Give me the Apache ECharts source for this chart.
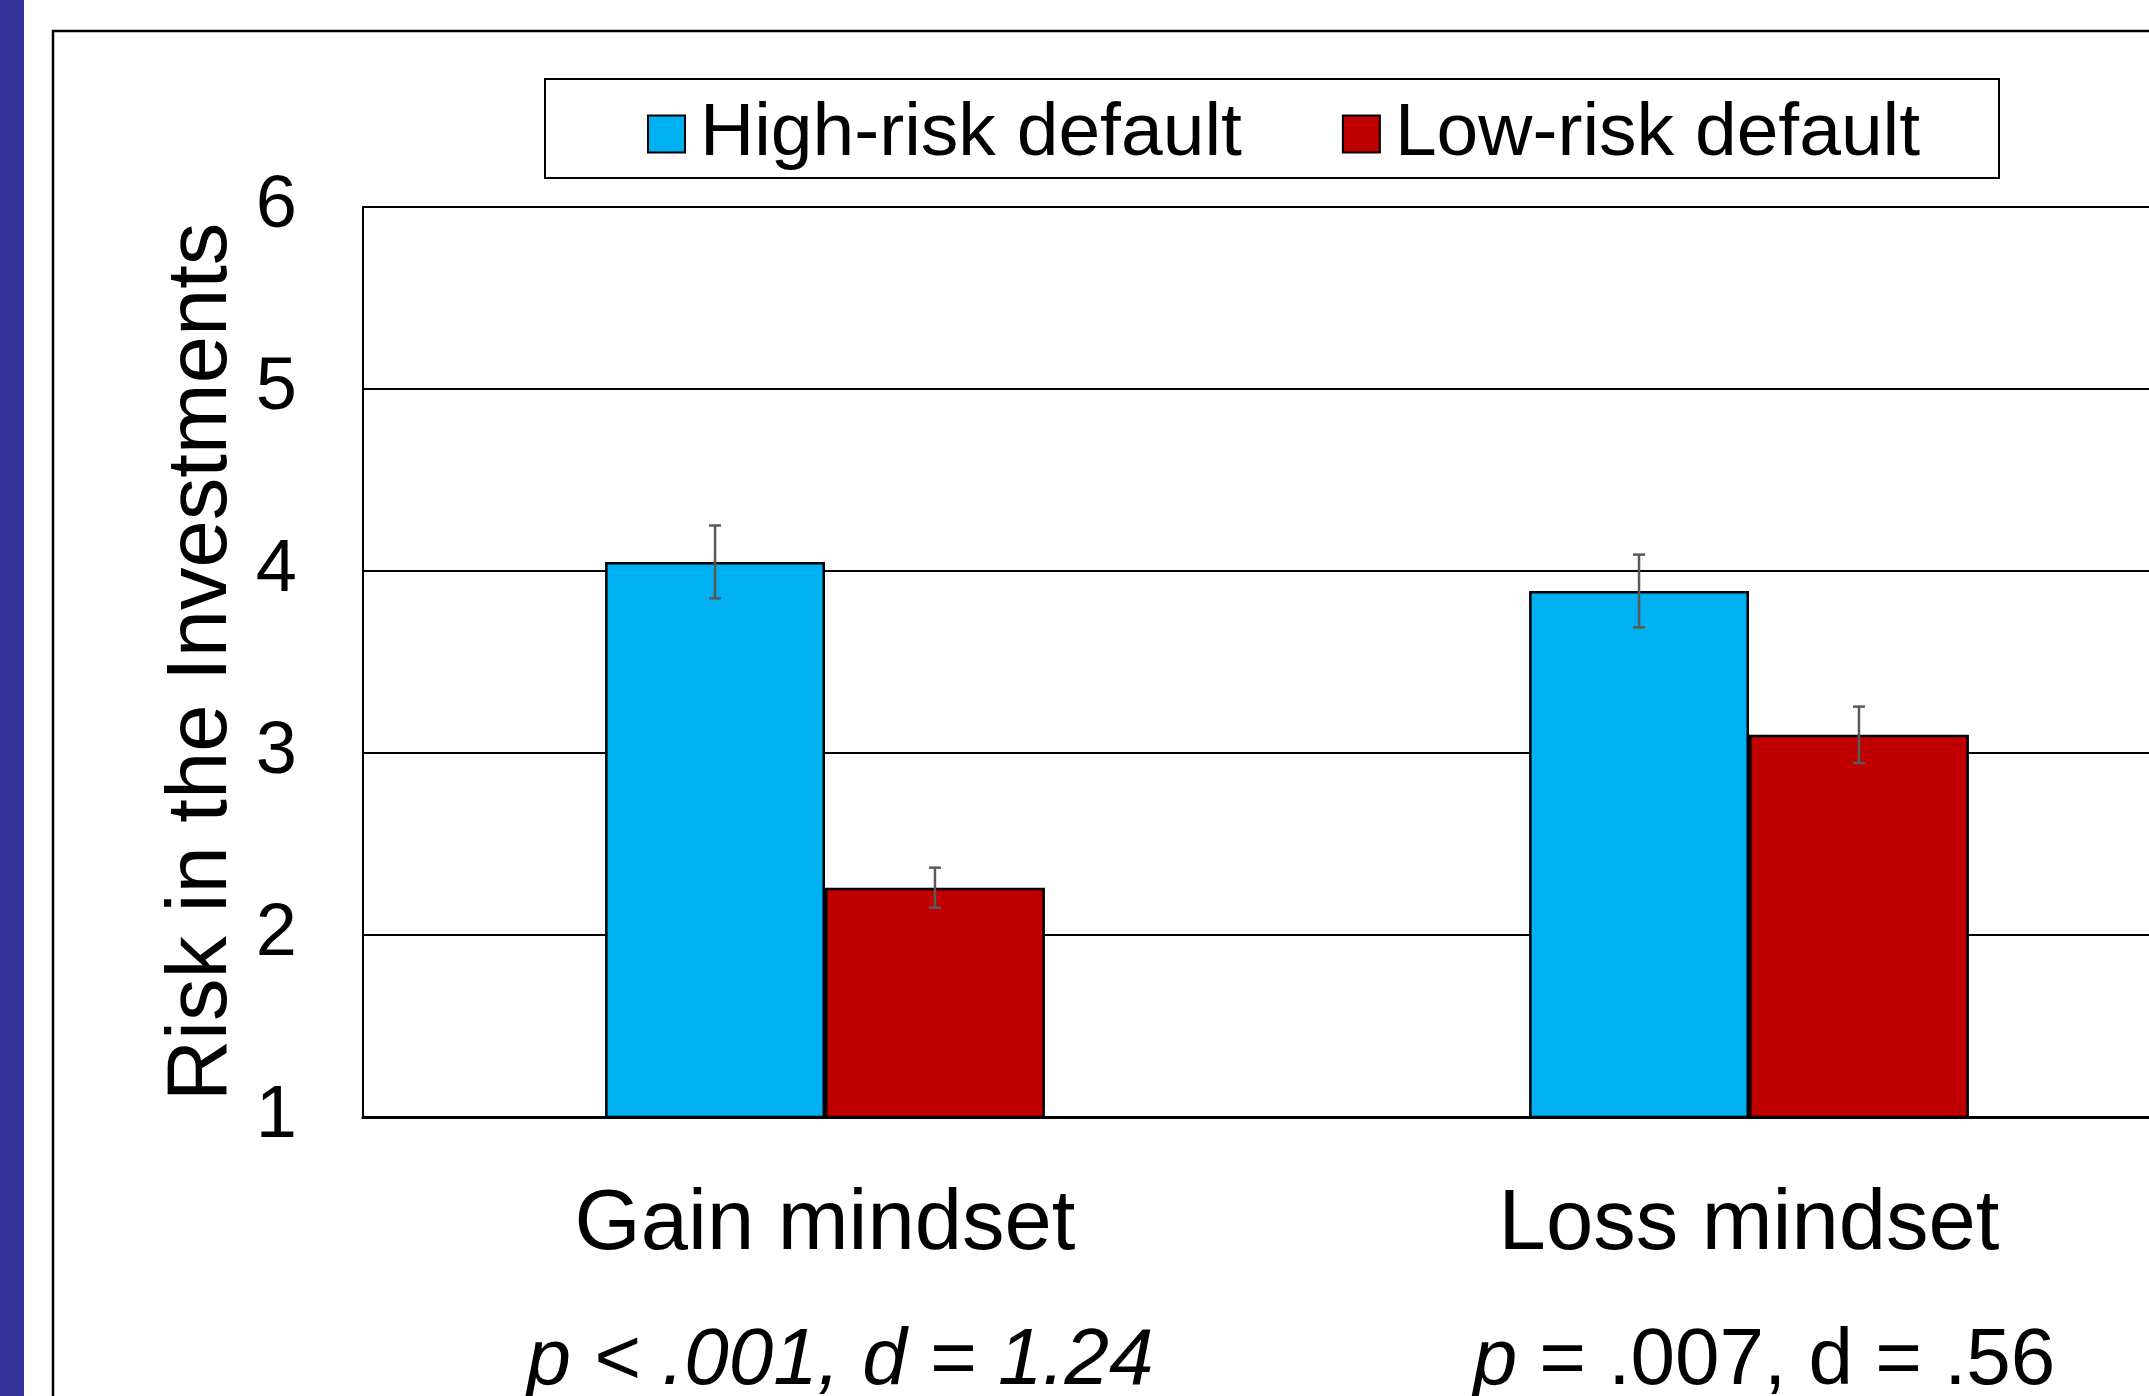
<!DOCTYPE html>
<html>
<head>
<meta charset="utf-8">
<script src="https://cdn.jsdelivr.net/npm/echarts@6/dist/echarts.min.js"></script>
<style>
  html, body { margin: 0; padding: 0; background: #fff; }
  #chart { width: 2149px; height: 1396px; }
</style>
</head>
<body>
<div id="chart"></div>
<script>
// data
const categories = ['Gain mindset', 'Loss mindset']
const pLines = ['{ip|p < .001, d = 1.24}', '{ip|p}{n| = .007, d = .56}']
const seriesNames = ['High-risk default', 'Low-risk default']
const highRisk = [4.05, 3.89]
const lowRisk = [2.26, 3.10]
const highRiskErr = [0.20, 0.20]
const lowRiskErr = [0.11, 0.155]
const yTicks = [1, 2, 3, 4, 5, 6]

const colors = ['#00B0F0', '#C00000']
const font = '"Liberation Sans", Arial, sans-serif'
const barRatio = 0.238

const chart = echarts.init(document.getElementById('chart'))

// error bars, drawn next to the bar they belong to
const errorSeries = (vals, errs, side) => ({
  type: 'custom',
  z: 10,
  renderItem: function(params, api) {
    const i = api.value(0)
    const v = api.value(1)
    const e = api.value(2)
    const band = api.size([1, 0])[0]
    const off = side * band * barRatio / 2
    const top = api.coord([i, v + e])
    const bot = api.coord([i, v - e])
    const x = top[0] + off
    const cap = 6
    const style = { stroke: '#595959', lineWidth: 2.5 }
    return {
      type: 'group',
      children: [
        { type: 'line', shape: { x1: x, y1: top[1], x2: x, y2: bot[1] }, style: style },
        { type: 'line', shape: { x1: x - cap, y1: top[1], x2: x + cap, y2: top[1] }, style: style },
        { type: 'line', shape: { x1: x - cap, y1: bot[1], x2: x + cap, y2: bot[1] }, style: style }
      ]
    }
  },
  data: vals.map((v, i) => [i, v, errs[i]])
})

chart.setOption({
  animation: false,
  textStyle: { fontFamily: font },
  graphic: [
    { type: 'rect', shape: { x: 0, y: 0, width: 24, height: 1396 }, style: { fill: '#333399' } },
    { type: 'rect', shape: { x: 53, y: 31, width: 2300, height: 1500 }, style: { fill: 'none', stroke: '#000', lineWidth: 2.5 } },
    { type: 'rect', shape: { x: 545, y: 79, width: 1454, height: 99 }, style: { fill: '#fff', stroke: '#000', lineWidth: 2 }, z: -1 }
  ],
  legend: {
    left: 642,
    top: 89,
    icon: 'rect',
    itemWidth: 37,
    itemHeight: 37,
    itemGap: 100,
    data: seriesNames,
    textStyle: {
      fontFamily: font,
      fontSize: 75,
      lineHeight: 80,
      color: '#000',
      padding: [0, 0, 0, 10]
    }
  },
  grid: {
    left: 363,
    top: 207,
    width: 1848,
    height: 910,
    outerBoundsMode: 'none'
  },
  xAxis: {
    type: 'category',
    data: categories,
    axisTick: { show: false },
    axisLine: { lineStyle: { color: '#000', width: 3 } },
    axisLabel: {
      margin: 41,
      color: '#000',
      formatter: function(value, idx) {
        return '{a|' + value + '}\n' + pLines[idx]
      },
      rich: {
        a: { fontFamily: font, fontSize: 85, lineHeight: 136, color: '#000' },
        ip: { fontFamily: font, fontSize: 80, fontStyle: 'italic', lineHeight: 136, color: '#000', padding: [0, 0, 0, 30] },
        n: { fontFamily: font, fontSize: 80, lineHeight: 136, color: '#000' }
      }
    }
  },
  yAxis: {
    type: 'value',
    min: yTicks[0],
    max: yTicks[yTicks.length - 1],
    interval: 1,
    name: 'Risk in the Investments',
    nameLocation: 'middle',
    nameRotate: 90,
    nameGap: 105,
    nameTextStyle: { fontFamily: font, fontSize: 85, color: '#000' },
    axisLine: { show: true, lineStyle: { color: '#000', width: 2 } },
    axisTick: { show: false },
    axisLabel: { fontFamily: font, fontSize: 74, color: '#000', margin: 66 },
    splitLine: { lineStyle: { color: '#000', width: 2 } }
  },
  series: [
    {
      name: seriesNames[0],
      type: 'bar',
      barWidth: (barRatio * 100) + '%',
      barGap: '0%',
      itemStyle: { color: colors[0], borderColor: '#000', borderWidth: 2.5 },
      data: highRisk
    },
    {
      name: seriesNames[1],
      type: 'bar',
      barWidth: (barRatio * 100) + '%',
      barGap: '0%',
      itemStyle: { color: colors[1], borderColor: '#000', borderWidth: 2.5 },
      data: lowRisk
    },
    errorSeries(highRisk, highRiskErr, -1),
    errorSeries(lowRisk, lowRiskErr, 1)
  ]
})
</script>
</body>
</html>
